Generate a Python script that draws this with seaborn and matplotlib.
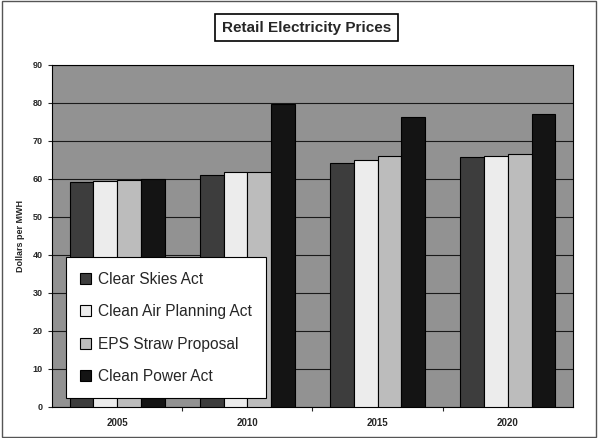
import matplotlib
matplotlib.use("Agg")
import matplotlib.pyplot as plt
import numpy as np
import pandas as pd
import seaborn as sns
from matplotlib.patches import Rectangle

years = ["2005", "2010", "2015", "2020"]
policies = ["Clear Skies Act", "Clean Air Planning Act", "EPS Straw Proposal", "Clean Power Act"]
clear_skies = [59.1, 61.0, 64.1, 65.7]
clean_air = [59.5, 61.7, 65.0, 66.1]
eps_straw = [59.6, 61.9, 65.9, 66.6]
clean_power = [59.9, 79.7, 76.2, 77.1]
y_ticks = list(range(0, 100, 10))

colors = ["#3d3d3d", "#ececec", "#bcbcbc", "#141414"]

df = pd.DataFrame({
    "year": years * 4,
    "policy": np.repeat(policies, len(years)),
    "price": clear_skies + clean_air + eps_straw + clean_power,
})

sns.set_style("white")
plt.rcParams["font.family"] = ["Liberation Sans", "DejaVu Sans"]

fig = plt.figure(figsize=(5.98, 4.38), dpi=100)
ax = fig.add_axes([0.087, 0.071, 0.871, 0.781])
ax.set_facecolor("#929292")

sns.barplot(
    data=df, x="year", y="price", hue="policy", hue_order=policies,
    palette=colors, width=0.73, edgecolor="black", linewidth=0.8,
    saturation=1, ax=ax, zorder=3,
)

ax.set_ylim(0, 90)
ax.set_yticks(y_ticks)
ax.set_yticklabels([str(t) for t in y_ticks], fontsize=6.5, fontweight="bold")
ax.yaxis.grid(True, color="#1a1a1a", linewidth=0.8, zorder=1)
ax.set_axisbelow(True)
ax.tick_params(axis="y", length=3, width=0.8, direction="out", left=True)
ax.tick_params(axis="x", length=0, labelsize=7, pad=8)
for lbl in ax.get_xticklabels():
    lbl.set_fontweight("bold")
ax.set_xticks([0.5, 1.5, 2.5], minor=True)
ax.tick_params(axis="x", which="minor", length=3, width=0.8, bottom=True)
ax.set_xlim(-0.5, 3.5)
ax.set_xlabel("")
ax.set_ylabel("Dollars per MWH", fontsize=6.5, fontweight="bold", labelpad=6)
for s in ax.spines.values():
    s.set_color("black")
    s.set_linewidth(0.8)

leg = ax.legend(
    loc="lower left", bbox_to_anchor=(0.027, 0.025), fontsize=11.2,
    frameon=True, fancybox=False, edgecolor="black", framealpha=1,
    handlelength=0.7, handleheight=0.7, handletextpad=0.45,
    labelspacing=1.12, borderpad=0.92, borderaxespad=0,
)
leg.get_frame().set_linewidth(0.8)

fig.text(0.513, 0.937, "Retail Electricity Prices", ha="center", va="center",
         fontsize=11, fontweight="bold",
         bbox=dict(boxstyle="square,pad=0.45", facecolor="white", edgecolor="black", linewidth=1.2))

fig.patches.append(Rectangle((0.003, 0.003), 0.994, 0.994, transform=fig.transFigure,
                             fill=False, edgecolor="#555555", linewidth=1.0))

fig.savefig("out.png", dpi=100)
